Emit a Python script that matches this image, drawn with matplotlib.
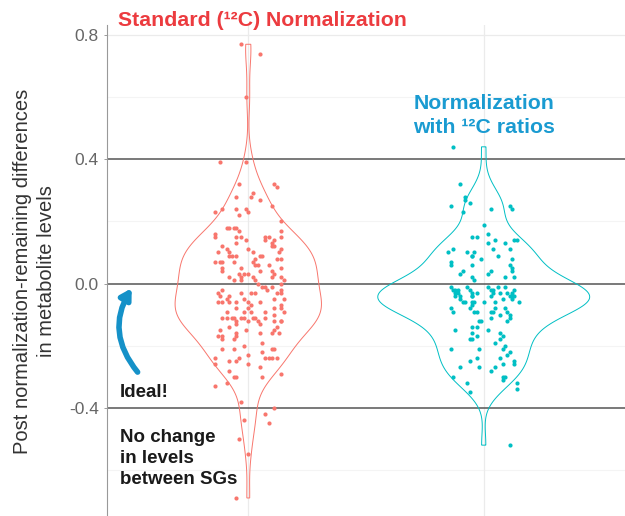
import numpy as np
import matplotlib
matplotlib.use("Agg")
import matplotlib.pyplot as plt

plt.rcParams['font.family'] = ['Liberation Sans', 'DejaVu Sans']

# values (y value, horizontal jitter)
std_vals = [0.77, 0.74, 0.60, 0.39, 0.39, 0.32, 0.32, 0.31, 0.28, 0.29, 0.28, 0.27, 0.24, 0.24,
            0.24, 0.23, 0.25, 0.23, 0.22, 0.20, 0.17, 0.18, 0.18, 0.18, 0.18, 0.17, 0.16, 0.15,
            0.15, 0.15, 0.15, 0.14, 0.15, 0.14, 0.15, 0.14, 0.13, 0.13, 0.12, 0.12, 0.12, 0.11,
            0.10, 0.10, 0.09, 0.09, 0.09, 0.11, 0.10, 0.11, 0.10, 0.08, 0.08, 0.08, 0.09, 0.09,
            0.07, 0.07, 0.07, 0.07, 0.07, 0.06, 0.06, 0.06, 0.05, 0.05, 0.05, 0.04, 0.04, 0.04,
            0.03, 0.03, 0.03, 0.03, 0.02, 0.02, 0.02, 0.02, 0.02, 0.01, 0.01, 0.01, 0.01, 0.00,
            0.00, -0.01, -0.01, -0.02, -0.01, -0.02, -0.03, -0.02, -0.03, -0.03, -0.03, -0.03, -0.04,
            -0.04, -0.03, -0.05, -0.06, -0.06, -0.05, -0.06, -0.07, -0.06, -0.05, -0.06, -0.06, -0.05,
            -0.08, -0.08, -0.09, -0.09, -0.07, -0.08, -0.09, -0.08, -0.09, -0.09, -0.11, -0.11, -0.11,
            -0.11, -0.11, -0.10, -0.11, -0.11, -0.11, -0.12, -0.12, -0.11, -0.12, -0.12, -0.12, -0.12,
            -0.14, -0.13, -0.15, -0.17, -0.17, -0.18, -0.15, -0.13, -0.14, -0.15, -0.16, -0.16, -0.16,
            -0.17, -0.18, -0.16, -0.19, -0.21, -0.21, -0.20, -0.22, -0.21, -0.21, -0.24, -0.26, -0.25,
            -0.25, -0.24, -0.23, -0.26, -0.24, -0.24, -0.24, -0.24, -0.28, -0.27, -0.30, -0.30, -0.30,
            -0.29, -0.33, -0.32, -0.38, -0.44, -0.42, -0.40, -0.45, -0.50, -0.55, -0.69]
std_jit = [-0.03, 0.05, -0.01, -0.12, -0.01, -0.04, 0.11, 0.12, -0.05, 0.02, 0.01, 0.05, -0.11, -0.05,
           -0.01, 0.00, 0.10, -0.14, -0.04, 0.14, 0.14, -0.09, -0.08, -0.06, -0.05, -0.04, -0.14, -0.14,
           0.14, -0.05, -0.03, -0.01, 0.07, 0.07, 0.09, 0.11, -0.05, 0.10, 0.11, 0.10, -0.11, -0.09,
           -0.13, -0.08, -0.08, -0.07, -0.05, 0.00, 0.02, 0.14, 0.13, 0.12, 0.14, 0.03, 0.05, 0.06,
           -0.14, -0.12, -0.11, -0.06, 0.02, 0.04, 0.03, 0.09, -0.11, 0.14, -0.03, 0.05, 0.10, -0.11,
           -0.04, -0.02, 0.00, 0.11, -0.08, -0.03, 0.02, 0.10, 0.14, 0.15, -0.06, -0.03, 0.03, 0.04,
           0.14, 0.06, 0.07, 0.08, 0.10, 0.14, 0.14, -0.11, -0.03, 0.01, 0.03, -0.13, -0.12,
           -0.08, 0.12, -0.09, -0.08, -0.05, -0.02, 0.00, 0.01, 0.05, 0.15, -0.13, -0.11, 0.11,
           -0.05, 0.00, 0.01, -0.02, 0.14, 0.14, -0.09, 0.11, 0.07, 0.15, -0.11, -0.07, -0.03,
           -0.02, 0.03, 0.11, 0.07, -0.09, -0.06, -0.05, 0.00, 0.02, 0.04, 0.11, 0.14, 0.14,
           -0.08, -0.05, -0.12, -0.13, -0.11, -0.11, -0.01, 0.05, 0.12, 0.11, 0.10, 0.13, -0.05,
           -0.05, -0.06, 0.05, 0.06, -0.11, -0.06, -0.02, 0.06, 0.11, 0.10, -0.14, -0.14, -0.08,
           -0.05, -0.04, 0.00, 0.00, 0.07, 0.09, 0.10, 0.12, -0.08, 0.05, -0.06, -0.05, 0.06,
           0.14, -0.14, -0.09, -0.03, -0.02, 0.07, 0.11, 0.09, -0.04, 0.00, -0.05]

ratio_vals = [0.44, 0.32, 0.28, 0.27, 0.25, 0.26, 0.23, 0.24, 0.25, 0.24, 0.19, 0.15, 0.15, 0.16,
              0.14, 0.14, 0.14, 0.13, 0.13, 0.11, 0.10, 0.10, 0.10, 0.11, 0.11, 0.09, 0.09, 0.09,
              0.08, 0.08, 0.07, 0.06, 0.06, 0.06, 0.05, 0.04, 0.03, 0.02, 0.01, 0.04, 0.03, 0.04,
              0.02, 0.02, -0.01, -0.02, -0.03, -0.04, -0.01, -0.02, -0.03, -0.02, -0.04, -0.05, -0.06,
              -0.04, -0.06, -0.06, -0.01, -0.02, -0.03, -0.04, -0.01, -0.03, -0.01, -0.03, -0.04, -0.05,
              -0.04, -0.02, -0.03, -0.05, -0.06, -0.06, -0.06, -0.06, -0.08, -0.09, -0.07, -0.08, -0.09,
              -0.09, -0.09, -0.09, -0.08, -0.08, -0.09, -0.10, -0.11, -0.10, -0.12, -0.12, -0.11, -0.12,
              -0.14, -0.14, -0.15, -0.15, -0.16, -0.18, -0.18, -0.17, -0.16, -0.17, -0.18, -0.19, -0.20,
              -0.21, -0.21, -0.21, -0.22, -0.24, -0.23, -0.25, -0.24, -0.27, -0.27, -0.28, -0.27, -0.26,
              -0.25, -0.26, -0.30, -0.30, -0.30, -0.31, -0.32, -0.32, -0.34, -0.35, -0.52,
              -0.02, -0.03, -0.03, -0.04, -0.02, -0.04]
ratio_jit = [-0.13, -0.10, -0.08, -0.08, -0.14, -0.06, -0.09, 0.03, 0.11, 0.12, 0.00, -0.05, -0.03, 0.02,
             0.05, 0.13, 0.14, 0.09, 0.02, -0.13, -0.15, -0.07, -0.04, 0.04, 0.11, -0.05, -0.05, 0.06,
             0.12, -0.01, -0.14, -0.14, -0.05, 0.11, 0.12, -0.09, -0.10, -0.05, -0.04, 0.03, 0.02, 0.12,
             0.13, 0.09, -0.14, -0.13, -0.12, -0.12, -0.07, -0.06, -0.05, -0.11, -0.10, -0.10, -0.09,
             -0.05, -0.04, -0.05, 0.02, 0.03, 0.04, 0.03, 0.06, 0.07, 0.09, 0.10, 0.11, 0.12,
             0.13, 0.13, -0.03, 0.08, -0.08, 0.00, 0.05, 0.15, -0.14, -0.13, -0.05, -0.06, -0.04,
             -0.03, 0.03, 0.04, 0.05, 0.09, 0.10, 0.11, 0.11, 0.07, -0.02, -0.01, 0.03, 0.10,
             -0.05, -0.03, -0.12, 0.02, -0.05, -0.06, -0.05, -0.03, 0.07, 0.08, 0.07, 0.05, 0.09,
             -0.14, -0.02, 0.08, 0.11, 0.07, 0.10, -0.06, -0.03, -0.10, -0.02, 0.03, 0.05, 0.08,
             0.13, 0.13, -0.13, 0.08, 0.09, 0.08, -0.07, 0.14, 0.14, -0.06, 0.11,
             -0.12, -0.11, 0.12, 0.12, 0.04, -0.05]

groups = [1, 2]
red = '#F8766D'
teal = '#00BFC4'


def kde(vals):
    vals = np.asarray(vals)
    n = len(vals)
    sd = vals.std(ddof=1)
    iqr = np.percentile(vals, 75) - np.percentile(vals, 25)
    bw = 0.9 * min(sd, iqr / 1.34) * n ** -0.2
    grid = np.linspace(vals.min(), vals.max(), 512)
    dens = np.exp(-0.5 * ((grid[:, None] - vals[None, :]) / bw) ** 2).sum(1)
    dens = dens / (n * bw * np.sqrt(2 * np.pi))
    return grid, dens


fig = plt.figure(figsize=(6.25, 5.16), dpi=100)
ax = fig.add_axes([107 / 625, 0, 1 - 107 / 625, 1 - 25 / 516])

g1, d1 = kde(std_vals)
g2, d2 = kde(ratio_vals)
scale = 0.45 / max(d1.max(), d2.max())

# grid lines
for y in [0.6, 0.2, -0.2, -0.6]:
    ax.axhline(y, color='#F4F4F4', lw=0.8, zorder=0)
ax.axhline(0.8, color='#EBEBEB', lw=0.9, zorder=0)
for x in groups:
    ax.axvline(x, color='#EBEBEB', lw=0.9, zorder=0)
for y in [0.4, 0.0, -0.4]:
    ax.axhline(y, color='#555555', lw=1.1, zorder=1)

for c, g, d, col in [(1, g1, d1, red), (2, g2, d2, teal)]:
    w = d * scale
    ax.fill(np.r_[c - w, (c + w)[::-1]], np.r_[g, g[::-1]], fc='none', ec=col, lw=0.7, zorder=3)

ax.scatter(1 + np.array(std_jit), std_vals, s=9, color=red, lw=0, zorder=2)
ax.scatter(2 + np.array(ratio_jit), ratio_vals, s=9, color=teal, lw=0, zorder=2)

ax.set_xlim(0.4, 2.6)
ax.set_ylim(-0.748, 0.832)
ax.set_yticks([0.8, 0.4, 0.0, -0.4])
ax.set_yticklabels(['0.8', '0.4', '0.0', '-0.4'])
ax.set_xticks([])
ax.tick_params(axis='y', colors='#8C8C8C', labelcolor='#666666', labelsize=12.5, length=2.5, width=0.6)
for s in ['top', 'right', 'bottom']:
    ax.spines[s].set_visible(False)
ax.spines['left'].set_color('#999999')
ax.spines['left'].set_linewidth(0.8)

fig.text(0.055, 1 - 271 / 516, 'Post normalization-remaining differences\nin metabolite levels',
         rotation=90, ha='center', va='center', fontsize=14.5, color='#333333', linespacing=1.3)

fig.text(118 / 625, 1 - 20 / 516, 'Standard (\u00b9\u00b2C) Normalization', ha='left', va='center',
         fontsize=15.3, fontweight='bold', color='#EC3B3F')
ax.text(2, 0.54, 'Normalization\nwith \u00b9\u00b2C ratios', ha='center', va='center',
        fontsize=15.3, fontweight='bold', color='#1A9BD1', linespacing=1.35)

ax.text(0.455, -0.352, 'Ideal!', ha='left', va='center', fontsize=13.5, fontweight='bold', color='#1A1A1A')
ax.text(0.455, -0.562, 'No change\nin levels\nbetween SGs', ha='left', va='center', fontsize=13.5,
        fontweight='bold', color='#1A1A1A', linespacing=1.32)

ax.annotate('', xy=(0.505, -0.015), xytext=(0.53, -0.285),
            arrowprops=dict(arrowstyle='-|>,head_length=0.6,head_width=0.35', color='#1591C8', lw=4,
                            connectionstyle='arc3,rad=-0.35', shrinkA=0, shrinkB=0))

fig.savefig('out.png', dpi=100)
